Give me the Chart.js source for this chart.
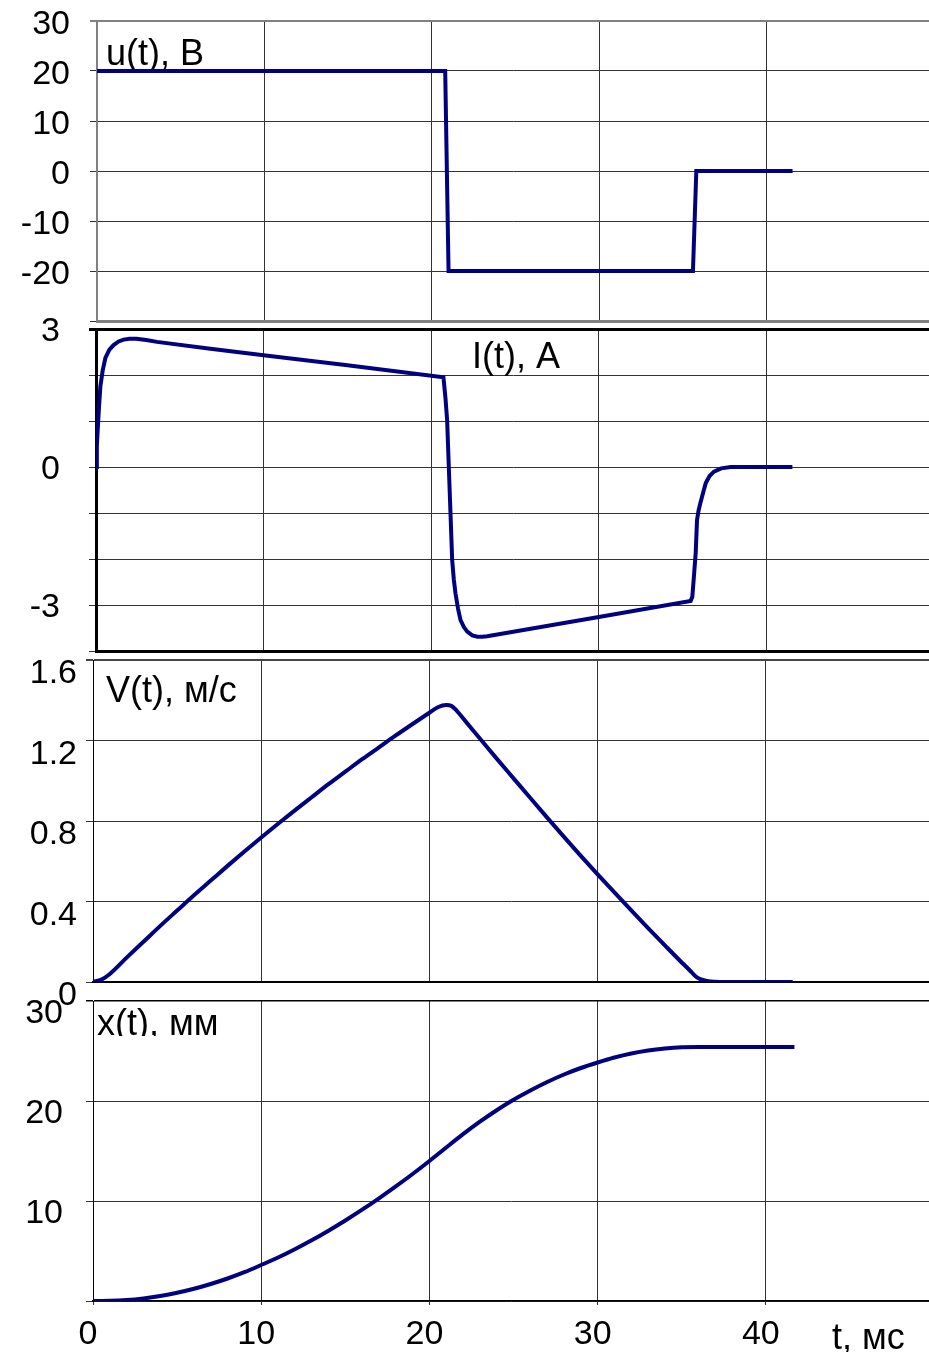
<!DOCTYPE html>
<html lang="ru">
<head>
<meta charset="utf-8">
<title>u(t), I(t), V(t), x(t)</title>
<script src="https://cdn.jsdelivr.net/npm/chart.js@4.4.1/dist/chart.umd.min.js"></script>
<style>
  html, body { margin: 0; padding: 0; background: #fff; }
  #wrap { position: relative; width: 929px; height: 1352px; overflow: hidden; background: #fff; }
  #wrap canvas { position: absolute; left: 0; top: 0; }
</style>
</head>
<body>
<div id="wrap">
  <canvas id="uChart" width="929" height="1352"></canvas>
  <canvas id="iChart" width="929" height="1352"></canvas>
  <canvas id="vChart" width="929" height="1352"></canvas>
  <canvas id="xChart" width="929" height="1352"></canvas>
</div>
<script>
// time axis, ms
const tTicks = [0, 10, 20, 30, 40];
const tMax = 49.7;

// u(t), В
const tU = [0, 20.8, 21.0, 35.6, 35.8, 41.55];
const uVals = [20, 20, -20, -20, 0, 0];
const uGrid = [-30, -20, -10, 0, 10, 20, 30];
const uLabels = [30, 20, 10, 0, -10, -20];

// I(t), А
const tI = [0, 0.05, 0.1, 0.18, 0.26, 0.4, 0.56, 0.8, 1.05, 1.35, 1.65, 2.0, 2.4,
  3.0, 3.64, 6.82, 10, 15, 20.73, 20.85, 20.95, 21.05, 21.15, 21.25, 21.35,
  21.45, 21.6, 21.75, 21.95, 22.15, 22.45, 22.75, 23.05, 23.34, 30, 35.48,
  35.58, 35.68, 35.78, 35.86, 35.95, 36.06, 36.23, 36.38, 36.6, 36.87, 37.3,
  37.87, 41.55];
const iVals = [0, 0.45, 0.8, 1.3, 1.75, 2.1, 2.37, 2.55, 2.65, 2.73, 2.77, 2.79,
  2.79, 2.76, 2.72, 2.57, 2.43, 2.21, 1.95, 1.5, 1.02, 0, -1.0, -2.02, -2.45,
  -2.75, -3.08, -3.33, -3.48, -3.58, -3.66, -3.69, -3.69, -3.68, -3.26, -2.91,
  -2.82, -2.35, -1.87, -1.15, -0.95, -0.78, -0.55, -0.35, -0.2, -0.1, -0.03,
  0, 0];
const iGrid = [-4, -3, -2, -1, 0, 1, 2, 3];
const iLabels = [3, 0, -3];

// V(t), м/с
const tV = [0, 0.5, 1, 2, 3, 4, 5, 6, 7, 8, 9, 10, 11, 12, 13, 14, 15, 16, 17,
  18, 19, 20, 20.5, 21.0, 21.3, 21.6, 22.2, 23, 24, 25, 26, 27, 28, 29, 30, 31,
  32, 33, 34, 35, 35.5, 35.8, 36.1, 36.5, 37, 37.5, 41.6];
const vVals = [0, 0.012, 0.04, 0.121, 0.2, 0.279, 0.355, 0.431, 0.504, 0.577,
  0.648, 0.718, 0.786, 0.853, 0.918, 0.983, 1.045, 1.107, 1.166, 1.225, 1.282,
  1.338, 1.365, 1.376, 1.372, 1.35, 1.29, 1.21, 1.11, 1.012, 0.914, 0.817, 0.721,
  0.627, 0.535, 0.445, 0.356, 0.268, 0.182, 0.097, 0.056, 0.03, 0.014, 0.005,
  0.001, 0, 0];
const vGrid = [0, 0.4, 0.8, 1.2, 1.6];

// x(t), мм
const tX = [0, 1, 2, 3, 4, 5, 6, 7, 8, 9, 10, 11, 12, 13, 14, 15, 16, 17, 18, 19,
  20, 21, 22, 23, 24, 25, 26, 27, 28, 29, 30, 31, 32, 33, 34, 35, 36, 37, 41.7];
const xVals = [0, 0.02, 0.1, 0.26, 0.5, 0.82, 1.22, 1.7, 2.25, 2.88, 3.6, 4.35,
  5.18, 6.07, 7.03, 8.05, 9.13, 10.27, 11.46, 12.7, 14.0, 15.35, 16.68, 17.93,
  19.08, 20.12, 21.05, 21.9, 22.65, 23.3, 23.85, 24.35, 24.75, 25.05, 25.25,
  25.37, 25.4, 25.4, 25.4];
const xGrid = [0, 10, 20, 30];
const xLabels = [30, 20, 10];

const LINE = '#000080';
const GRID = '#333';
const FONT = '"Liberation Sans", Arial, sans-serif';
const PAGE_H = 1352;

// captions drawn straight onto each panel's canvas
const panelText = {
  id: 'panelText',
  beforeDatasetsDraw(chart, args, opts) {
    const ctx = chart.ctx;
    (opts.items || []).forEach(it => {
      ctx.save();
      if (it.clip) {
        ctx.beginPath();
        ctx.rect(0, 0, chart.width, it.clip);
        ctx.clip();
      }
      ctx.font = `${it.size || 36}px ${FONT}`;
      ctx.fillStyle = '#000';
      ctx.textAlign = 'left';
      ctx.textBaseline = 'alphabetic';
      ctx.fillText(it.text, it.x, it.y);
      ctx.restore();
    });
  }
};

function makePanel(id, cfg) {
  const ctx = document.getElementById(id).getContext('2d');
  const yMax = Math.max(...cfg.grid);
  return new Chart(ctx, {
    type: 'line',
    data: {
      datasets: [{
        data: cfg.t.map((t, i) => ({ x: t, y: cfg.y[i] })),
        borderColor: LINE,
        borderWidth: 4,
        pointRadius: 0,
        fill: false,
        tension: 0,
        cubicInterpolationMode: cfg.smooth ? 'monotone' : 'default'
      }]
    },
    options: {
      responsive: false,
      animation: false,
      events: [],
      layout: { padding: { top: cfg.top, left: 0, right: 0, bottom: 0 } },
      plugins: {
        legend: { display: false },
        tooltip: { enabled: false },
        panelText: { items: cfg.text }
      },
      scales: {
        x: {
          type: 'linear',
          min: 0,
          max: tMax,
          afterBuildTicks: s => { s.ticks = tTicks.map(v => ({ value: v })); },
          afterFit: s => {
            s.height = PAGE_H - cfg.bottom;
            s.paddingLeft = 0;
            s.paddingRight = 0;
          },
          ticks: {
            display: !!cfg.xLabels,
            color: '#000',
            font: { family: FONT, size: 34 },
            padding: 9,
            labelOffset: -5,
            maxRotation: 0,
            callback: v => String(v)
          },
          grid: { color: GRID, lineWidth: 1, drawTicks: !!cfg.xLabels, tickLength: 4 },
          border: { display: true, color: cfg.bottomColor, width: cfg.bottomWidth }
        },
        y: {
          type: 'linear',
          min: Math.min(...cfg.grid),
          max: yMax,
          afterBuildTicks: s => { s.ticks = cfg.grid.map(v => ({ value: v })); },
          afterFit: s => {
            s.width = cfg.left;
            s.paddingTop = 0;
            s.paddingBottom = 0;
          },
          ticks: {
            color: '#000',
            font: { family: FONT, size: 34 },
            padding: cfg.labelPad,
            labelOffset: cfg.labelOffset,
            callback: v => cfg.labels.some(l => Math.abs(l - v) < 1e-9)
              ? String(Number(v.toFixed(1))) : ''
          },
          grid: {
            color: c => (c.tick && c.tick.value === yMax) ? cfg.topColor : GRID,
            lineWidth: c => (c.tick && c.tick.value === yMax) ? cfg.topWidth : 1,
            tickLength: 7
          },
          border: { display: true, color: cfg.leftColor, width: cfg.leftWidth }
        }
      }
    },
    plugins: [panelText]
  });
}

makePanel('uChart', {
  t: tU, y: uVals, grid: uGrid, labels: uLabels,
  top: 21, bottom: 321, left: 97, labelPad: 20, labelOffset: 4,
  topColor: '#808080', topWidth: 2, leftColor: '#808080', leftWidth: 2,
  bottomColor: '#808080', bottomWidth: 3,
  text: [{ text: 'u(t), В', x: 106, y: 65 }]
});

makePanel('iChart', {
  t: tI, y: iVals, grid: iGrid, labels: iLabels,
  top: 329, bottom: 651, left: 96, labelPad: 29, labelOffset: 3,
  topColor: '#000', topWidth: 3, leftColor: '#000', leftWidth: 3,
  bottomColor: '#000', bottomWidth: 3,
  text: [{ text: 'I(t), А', x: 472, y: 368 }]
});

makePanel('vChart', {
  t: tV, y: vVals, grid: vGrid, labels: vGrid, smooth: true,
  top: 660, bottom: 982, left: 93, labelPad: 9, labelOffset: 14,
  topColor: '#444', topWidth: 2, leftColor: '#000', leftWidth: 1,
  bottomColor: '#000', bottomWidth: 2,
  text: [{ text: 'V(t), м/с', x: 106, y: 702 }]
});

makePanel('xChart', {
  t: tX, y: xVals, grid: xGrid, labels: xLabels, smooth: true, xLabels: true,
  top: 1001, bottom: 1301, left: 93, labelPad: 23, labelOffset: 13,
  topColor: '#000', topWidth: 1.5, leftColor: '#000', leftWidth: 1,
  bottomColor: '#000', bottomWidth: 1.5,
  text: [
    { text: 'x(t), мм', x: 97, y: 1035, clip: 1036 },
    { text: 't, мс', x: 832, y: 1349 }
  ]
});
</script>
</body>
</html>
